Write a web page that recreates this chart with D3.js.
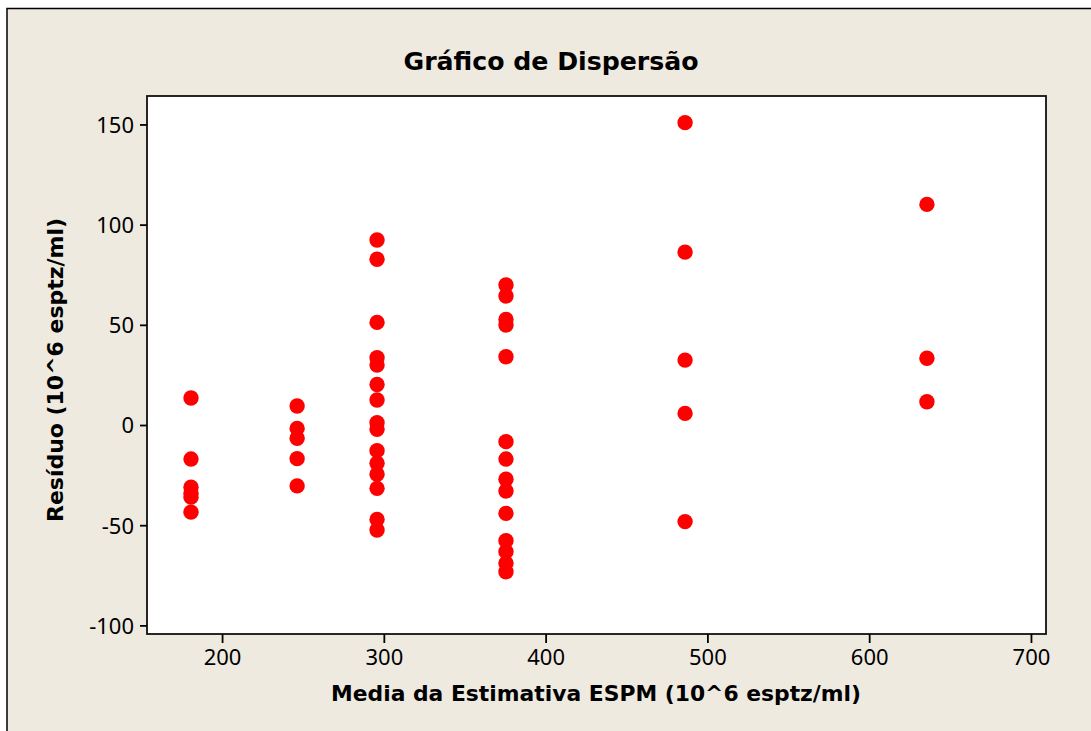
<html>
<head>
<meta charset="utf-8">
<title>Gráfico de Dispersão</title>
<script src="https://d3js.org/d3.v7.min.js"></script>
<style>
body { margin: 0; background: #ffffff; }
svg { display: block; }
text { font-family: 'Noto Sans', 'Open Sans', sans-serif; fill: #000; }
.lbl { font-family: 'DejaVu Sans', sans-serif; font-weight: bold; }
</style>
</head>
<body>
<svg id="chart" width="1091" height="731"></svg>
<script>
// data: mean estimate (x) and residual (y)
var xMeans = [180.8, 246.4, 295.8, 375.5, 486.2, 635.7];
var residuals = [
  [13.5, -17, -31, -34, -36, -43.5],
  [9.5, -1.7, -6.6, -16.8, -30.4],
  [92.3, 82.7, 51.2, 33.6, 29.9, 20.2, 12.5, 1.1, -2.1, -12.8, -19.1, -24.6, -31.6, -47.1, -52.4],
  [69.9, 64.4, 52.7, 49.9, 34.1, -8.3, -17, -27.1, -32.9, -44.1, -57.7, -63.2, -69, -73.2],
  [150.9, 86.3, 32.4, 5.8, -48.2],
  [110.1, 33.3, 11.6]
];
var xTicks = [200, 300, 400, 500, 600, 700];
var yTicks = [-100, -50, 0, 50, 100, 150];

var points = [];
xMeans.forEach(function(m, i){
  residuals[i].forEach(function(r){ points.push({x: m, y: r}); });
});

var svg = d3.select("#chart");

// outer frame
svg.append("rect").attr("x", 0).attr("y", 0).attr("width", 1091).attr("height", 731).attr("fill", "#fff");
svg.append("rect").attr("x", 7).attr("y", 8.5).attr("width", 1100).attr("height", 740)
  .attr("fill", "#eeeae0").attr("stroke", "#000").attr("stroke-width", 1.5);

var pLeft = 147, pTop = 96, pRight = 1046, pBottom = 634;

var x = d3.scaleLinear().domain([153.6, 709.3]).range([pLeft, pRight]);
var y = d3.scaleLinear().domain([-104.3, 164.2]).range([pBottom, pTop]);

svg.append("rect").attr("x", pLeft).attr("y", pTop).attr("width", pRight - pLeft).attr("height", pBottom - pTop)
  .attr("fill", "#fff").attr("stroke", "#111").attr("stroke-width", 1.8);

var xAxis = svg.append("g").attr("transform", "translate(0," + pBottom + ")")
  .call(d3.axisBottom(x).tickValues(xTicks).tickSize(9).tickPadding(6).tickFormat(String));
var yAxis = svg.append("g").attr("transform", "translate(" + pLeft + ",0)")
  .call(d3.axisLeft(y).tickValues(yTicks).tickSize(7).tickPadding(6).tickFormat(String));

[xAxis, yAxis].forEach(function(a){
  a.select(".domain").remove();
  a.selectAll(".tick line").attr("stroke", "#000").attr("stroke-width", 1.8);
  a.selectAll(".tick text").style("font-size", "22px").style("font-family", "'Noto Sans', sans-serif").attr("fill", "#000");
});
yAxis.selectAll(".tick text").attr("dy", "0.36em");

svg.selectAll("circle.pt").data(points).enter().append("circle")
  .attr("class", "pt")
  .attr("cx", function(d){ return x(d.x); })
  .attr("cy", function(d){ return y(d.y); })
  .attr("r", 7.7)
  .attr("fill", "#ff0000");

svg.append("text").attr("class", "lbl").attr("x", 551).attr("y", 70).attr("text-anchor", "middle")
  .attr("textLength", 295).attr("lengthAdjust", "spacingAndGlyphs")
  .style("font-size", "24px").text("Gráfico de Dispersão");

svg.append("text").attr("class", "lbl").attr("x", 596).attr("y", 701).attr("text-anchor", "middle")
  .attr("textLength", 530).attr("lengthAdjust", "spacingAndGlyphs")
  .style("font-size", "22px").text("Media da Estimativa ESPM (10^6 esptz/ml)");

svg.append("text").attr("class", "lbl").attr("transform", "translate(63,370) rotate(-90)").attr("text-anchor", "middle")
  .attr("textLength", 304).attr("lengthAdjust", "spacingAndGlyphs")
  .style("font-size", "22px").text("Resíduo (10^6 esptz/ml)");
</script>
</body>
</html>
